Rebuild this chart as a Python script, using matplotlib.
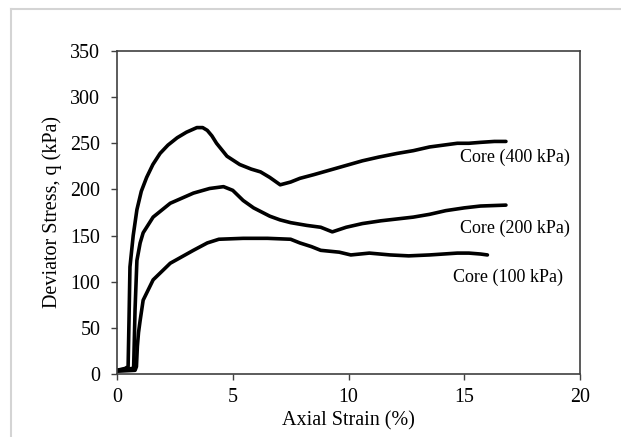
import numpy as np
import matplotlib
matplotlib.use('Agg')
import matplotlib.pyplot as plt
from matplotlib.lines import Line2D

plt.rcParams['font.family'] = ['Liberation Serif', 'DejaVu Serif']

# strain (%) / deviator stress (kPa)
strain_400 = [0.0, 0.35, 0.48, 0.52, 0.56, 0.7, 0.86, 1.05, 1.28, 1.55, 1.86, 2.2, 2.6, 3.0, 3.45, 3.7, 3.9, 4.1, 4.3, 4.75, 5.3, 5.8, 6.2, 6.6, 7.05, 7.5, 7.9, 8.5, 9.2, 9.9, 10.6, 11.3, 12.1, 12.8, 13.5, 14.1, 14.7, 15.2, 15.7, 16.3, 16.8]
q_400 = [4, 6, 8, 60, 116, 150, 178, 198, 213, 227, 239, 248, 256, 262, 267, 267, 264, 258, 250, 236, 227, 222, 219, 213, 205, 208, 212, 216, 221, 226, 231, 235, 239, 242, 246, 248, 250, 250, 251, 252, 252]

strain_200 = [0.0, 0.68, 0.72, 0.78, 0.86, 1.0, 1.13, 1.56, 2.3, 3.3, 4.0, 4.6, 5.0, 5.45, 5.9, 6.6, 7.04, 7.5, 8.2, 8.8, 9.3, 9.9, 10.6, 11.4, 12.1, 12.8, 13.5, 14.2, 15.0, 15.7, 16.8]
q_200 = [4, 6, 8, 70, 123, 142, 153, 170, 185, 196, 201, 203, 199, 188, 180, 171, 167, 164, 161, 159, 154, 159, 163, 166, 168, 170, 173, 177, 180, 182, 183]

strain_100 = [0.0, 0.78, 0.84, 0.88, 0.93, 1.0, 1.13, 1.56, 2.3, 3.3, 3.9, 4.4, 5.45, 6.5, 7.5, 7.9, 8.4, 8.8, 9.6, 10.1, 10.9, 11.8, 12.6, 13.5, 14.7, 15.2, 15.7, 16.0]
q_100 = [3, 4, 8, 30, 45, 58, 80, 102, 120, 134, 142, 146, 147, 147, 146, 142, 138, 134, 132, 129, 131, 129, 128, 129, 131, 131, 130, 129]

labels = ['Core (400 kPa)', 'Core (200 kPa)', 'Core (100 kPa)']
label_x = [14.8, 14.8, 14.5]
label_y = [235, 158, 105]

fig = plt.figure(figsize=(6.21, 4.37), dpi=100)
ax = fig.add_axes([0.1884, 0.1442, 0.7456, 0.7391])

for s, q in [(strain_400, q_400), (strain_200, q_200), (strain_100, q_100)]:
    ax.plot(s, q, color='black', lw=2.6, solid_capstyle='round', solid_joinstyle='round')

for lab, lx, ly in zip(labels, label_x, label_y):
    ax.text(lx, ly, lab, fontsize=13, va='center', ha='left')

ax.set_xlim(0, 20)
ax.set_ylim(0, 350)
ax.set_xticks(np.arange(0, 21, 5))
ax.set_yticks(np.arange(0, 351, 50))
ax.tick_params(direction='out', length=4, width=1, colors='#404040', labelcolor='black', labelsize=14.4)
ax.tick_params(axis='y', pad=8)
ax.tick_params(axis='x', pad=6)
for sp in ax.spines.values():
    sp.set_color('#404040')
    sp.set_linewidth(1.2)

ax.set_xlabel('Axial Strain (%)', fontsize=14.5, labelpad=3)
ax.set_ylabel('Deviator Stress, q (kPa)', fontsize=14.5, labelpad=6)

# light chart-area border (left and top)
fig.add_artist(Line2D([11/621, 11/621], [0, 1 - 9/437], transform=fig.transFigure, color='#d4d4d4', lw=1.5))
fig.add_artist(Line2D([11/621, 1], [1 - 9/437, 1 - 9/437], transform=fig.transFigure, color='#d4d4d4', lw=1.5))

fig.savefig('out.png', dpi=100)
